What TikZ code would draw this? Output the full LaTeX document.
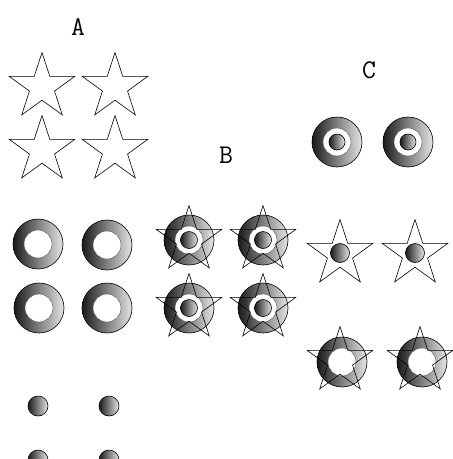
\documentclass[tikz,border=0pt]{standalone}
\usepackage{fontspec}
\tikzset{
  grad/.style={left color=black!90, right color=black!10},
  outl/.style={draw=black, line width=0.6pt},
  lbl/.style={font=\ttfamily\fontsize{27}{27}\selectfont, inner sep=0pt}
}
\newcommand\starat[2]{\draw[outl,shift={(#1,#2)}] (-90:34.5)--(-54:13.2)--(-18:34.5)--(18:13.2)--(54:34.5)--(90:13.2)--(126:34.5)--(162:13.2)--(198:34.5)--(234:13.2)--cycle;}
\newcommand\ringat[2]{%
  \shade[grad] (#1,#2) circle (25);
  \fill[white] (#1,#2) circle (14);
  \draw[outl] (#1,#2) circle (25);
  \draw[draw=black!70, line width=0.4pt] (#1,#2) circle (14);}
\newcommand\dotat[3]{%
  \shade[grad] (#1,#2) circle (#3);
  \draw[outl] (#1,#2) circle (#3);}
\begin{document}
\begin{tikzpicture}[x=1pt,y=-1pt]
\useasboundingbox (0,0) rectangle (453,459);
\clip (0,0) rectangle (453,459);
% labels
\node[lbl] (la) at (78,27) {A};
\node[lbl] (lb) at (226,155) {B};
\node[lbl] (lc) at (369,70) {C};
% A: stars
\starat{42}{87}\starat{115}{87}
\starat{42}{150}\starat{115}{150}
% A: rings
\ringat{38}{244}\ringat{107}{245}
\ringat{39}{308}\ringat{107}{308}
% A: dots
\dotat{38}{406}{10}\dotat{109}{406}{10}
\dotat{38}{460}{10}\dotat{109}{460}{10}
% B: ring + disc + star
\foreach \cx/\cy in {189/240,263/240,189/308,263/308}{
  \ringat{\cx}{\cy}
  \dotat{\cx}{\cy}{8.5}
  \starat{\cx}{\cy}
}
% C: targets
\ringat{337}{142}\dotat{337}{142}{8}
\ringat{408}{142}\dotat{408}{142}{8}
% C: stars with dot
\starat{340}{254}\dotat{340}{253}{9.5}
\starat{415}{254}\dotat{415}{253}{9.5}
% C: stars with ring
\ringat{342}{362}\starat{340}{361}
\ringat{422}{362}\starat{420}{361}
\end{tikzpicture}
\end{document}
